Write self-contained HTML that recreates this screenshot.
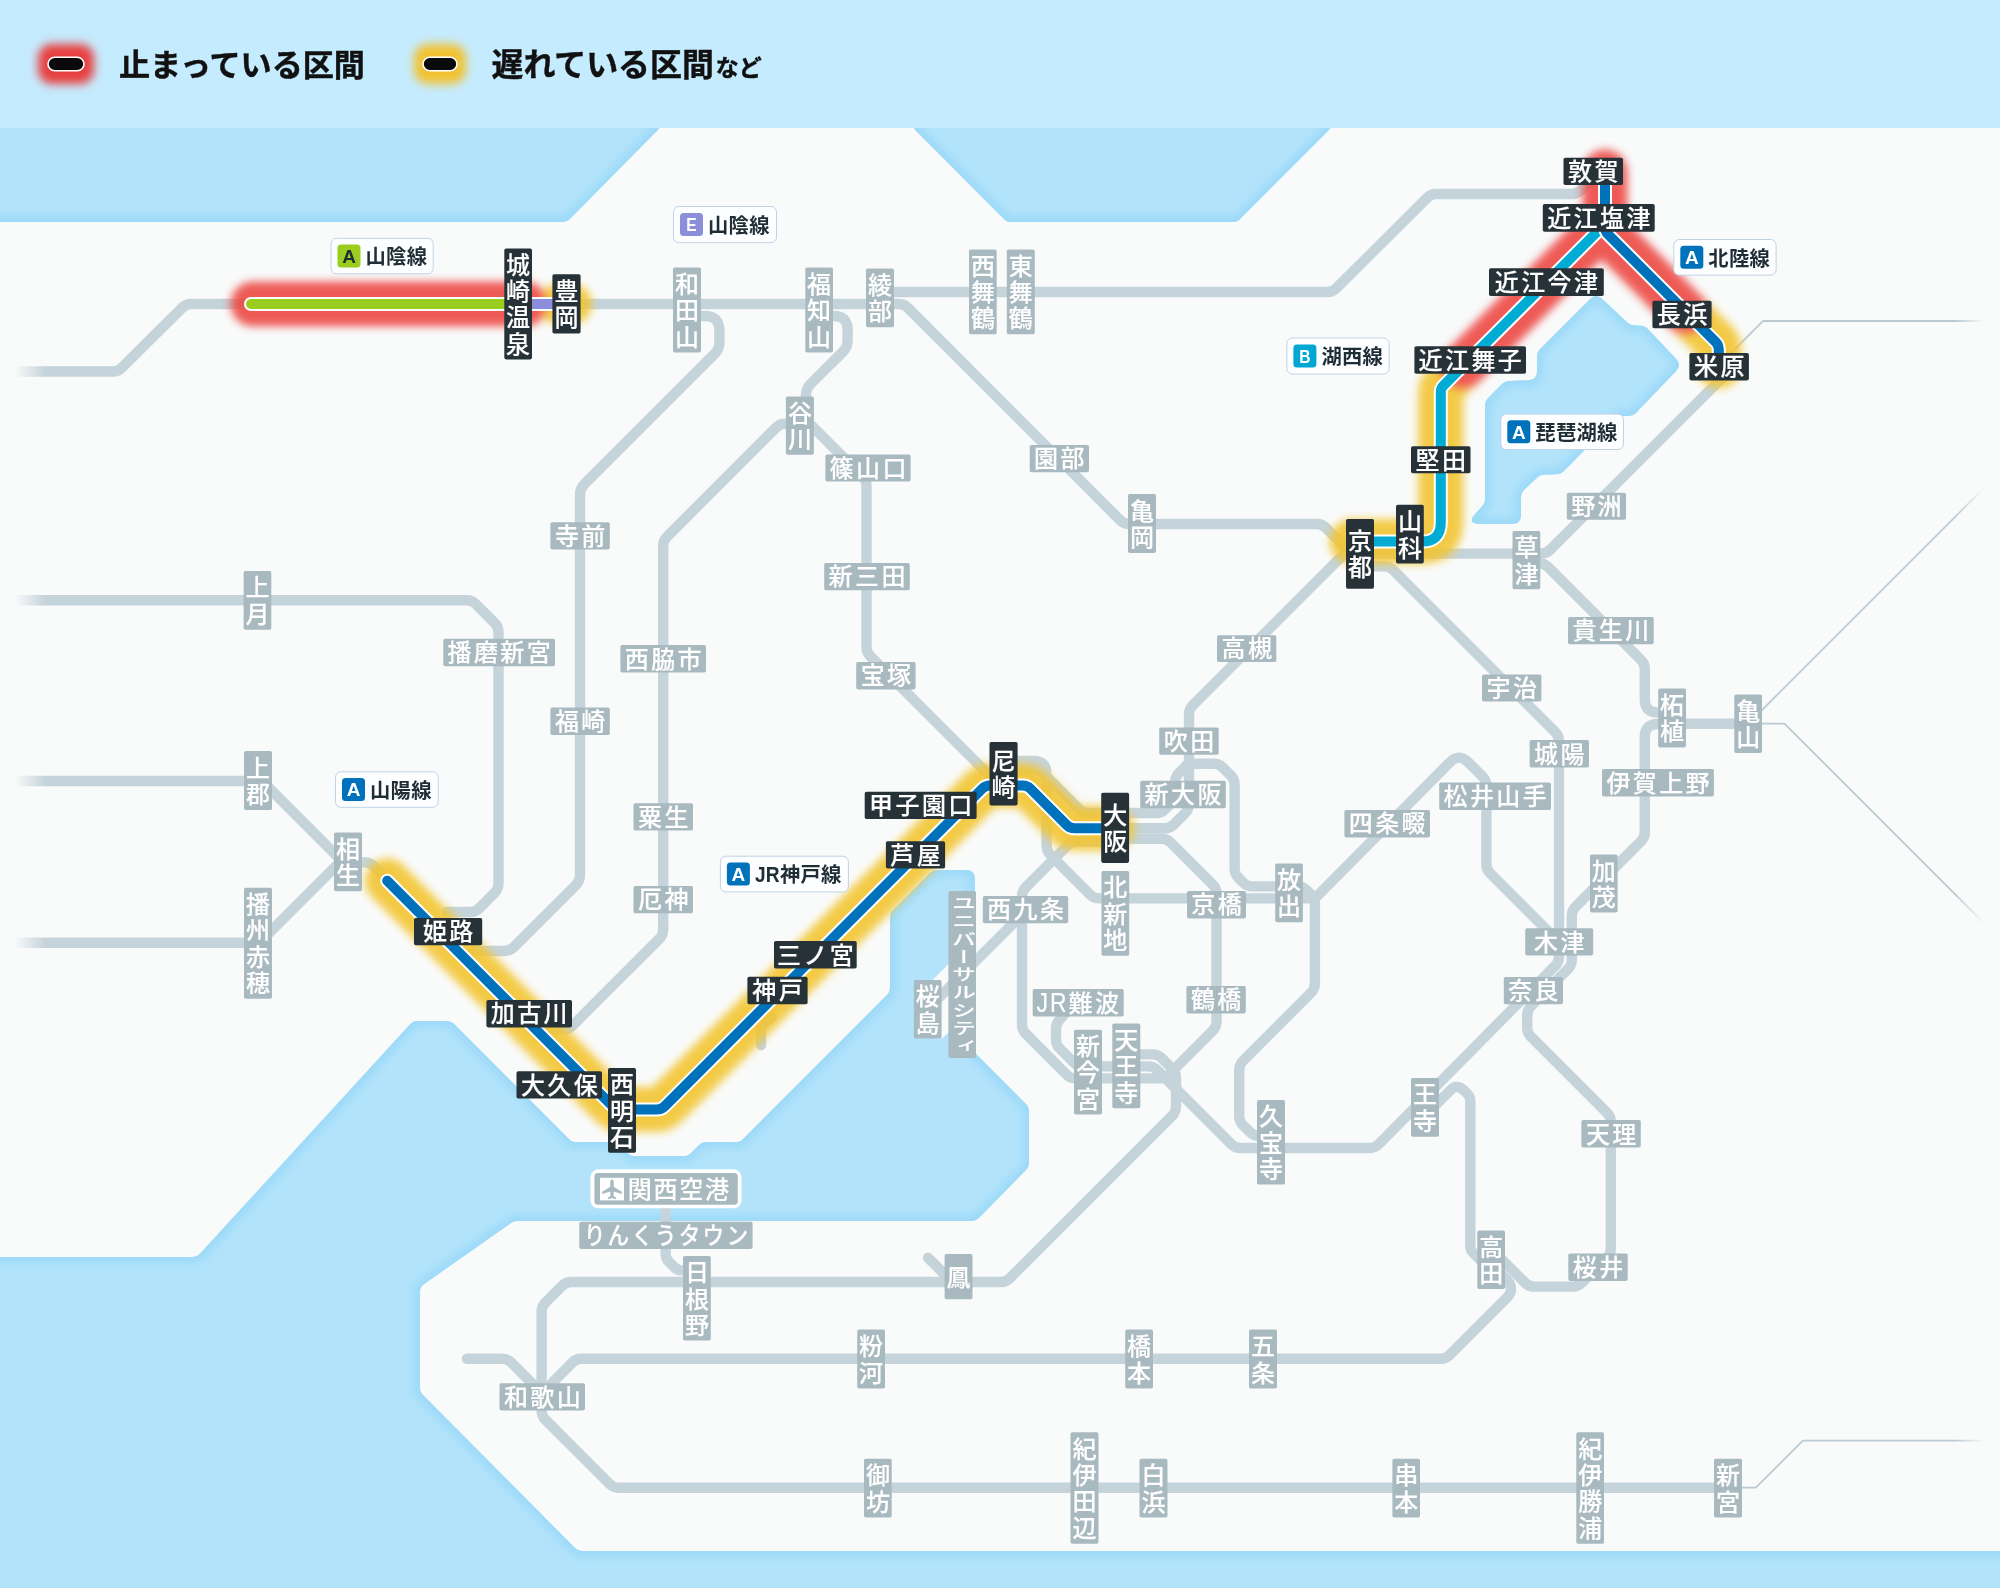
<!DOCTYPE html>
<html lang="ja"><head><meta charset="utf-8"><title>運行情報マップ</title>
<style>html,body{margin:0;padding:0;background:#f9fbfb}body{width:2000px;height:1588px;overflow:hidden}svg{display:block;transform:translateZ(0);will-change:transform}</style>
</head><body>
<svg width="2000" height="1588" viewBox="0 0 2000 1588">
<defs>
<filter id="b4" x="-20%" y="-20%" width="140%" height="140%"><feGaussianBlur stdDeviation="4.1"/></filter>
<filter id="b5" x="-50%" y="-50%" width="200%" height="200%"><feGaussianBlur stdDeviation="4.6"/></filter>
<filter id="b2" x="-5%" y="-5%" width="110%" height="110%"><feGaussianBlur stdDeviation="4.5"/></filter>
<linearGradient id="fade" x1="0" x2="1" y1="0" y2="0"><stop offset="0" stop-color="#000"/><stop offset="0.0075" stop-color="#000"/><stop offset="0.0225" stop-color="#fff"/><stop offset="0.9775" stop-color="#fff"/><stop offset="0.9925" stop-color="#000"/><stop offset="1" stop-color="#000"/></linearGradient>
<mask id="mfade" maskUnits="userSpaceOnUse" x="0" y="0" width="2000" height="1588"><rect x="0" y="0" width="2000" height="1588" fill="url(#fade)"/></mask>
<clipPath id="mapclip"><rect x="0" y="128" width="2000" height="1460"/></clipPath>
</defs>
<rect width="2000" height="1588" fill="#f9fbfb"/>
<g clip-path="url(#mapclip)">
<g fill="#b2e3fb" stroke="#b2e3fb" stroke-width="6" stroke-linejoin="round">
</g>
<clipPath id="sc0"><path d="M320.0 100.0 L651.0 100.0 Q660.0 100.0 660.0 109.0 L660.0 124.3 Q660.0 128.0 657.4 130.6 L569.6 219.3 Q567.0 222.0 563.2 222.0 L-11.0 222.0 Q-20.0 222.0 -20.0 213.0 L-20.0 109.0 Q-20.0 100.0 -11.0 100.0 Z"/></clipPath>
<path d="M320.0 100.0 L651.0 100.0 Q660.0 100.0 660.0 109.0 L660.0 124.3 Q660.0 128.0 657.4 130.6 L569.6 219.3 Q567.0 222.0 563.2 222.0 L-11.0 222.0 Q-20.0 222.0 -20.0 213.0 L-20.0 109.0 Q-20.0 100.0 -11.0 100.0 Z" fill="#b2e3fb"/>
<g clip-path="url(#sc0)"><path d="M320.0 100.0 L651.0 100.0 Q660.0 100.0 660.0 109.0 L660.0 124.3 Q660.0 128.0 657.4 130.6 L569.6 219.3 Q567.0 222.0 563.2 222.0 L-11.0 222.0 Q-20.0 222.0 -20.0 213.0 L-20.0 109.0 Q-20.0 100.0 -11.0 100.0 Z" fill="none" stroke="#9bd9f8" stroke-width="12" filter="url(#b2)"/></g>
<clipPath id="sc1"><path d="M1122.0 100.0 L1322.0 100.0 Q1331.0 100.0 1331.0 109.0 L1331.0 124.3 Q1331.0 128.0 1328.4 130.6 L1239.6 219.4 Q1237.0 222.0 1233.3 222.0 L1010.7 222.0 Q1007.0 222.0 1004.4 219.4 L915.6 130.6 Q913.0 128.0 913.0 124.3 L913.0 109.0 Q913.0 100.0 922.0 100.0 Z"/></clipPath>
<path d="M1122.0 100.0 L1322.0 100.0 Q1331.0 100.0 1331.0 109.0 L1331.0 124.3 Q1331.0 128.0 1328.4 130.6 L1239.6 219.4 Q1237.0 222.0 1233.3 222.0 L1010.7 222.0 Q1007.0 222.0 1004.4 219.4 L915.6 130.6 Q913.0 128.0 913.0 124.3 L913.0 109.0 Q913.0 100.0 922.0 100.0 Z" fill="#b2e3fb"/>
<g clip-path="url(#sc1)"><path d="M1122.0 100.0 L1322.0 100.0 Q1331.0 100.0 1331.0 109.0 L1331.0 124.3 Q1331.0 128.0 1328.4 130.6 L1239.6 219.4 Q1237.0 222.0 1233.3 222.0 L1010.7 222.0 Q1007.0 222.0 1004.4 219.4 L915.6 130.6 Q913.0 128.0 913.0 124.3 L913.0 109.0 Q913.0 100.0 922.0 100.0 Z" fill="none" stroke="#9bd9f8" stroke-width="12" filter="url(#b2)"/></g>
<clipPath id="sc2"><path d="M1613.0 309.0 L1627.7 322.8 Q1630.0 325.0 1633.2 325.2 L1641.5 325.8 Q1645.0 326.0 1647.4 328.6 L1676.1 358.8 Q1682.0 365.0 1676.0 371.2 L1635.7 413.2 Q1633.0 416.0 1629.2 416.0 L1621.8 416.0 Q1618.0 416.0 1615.4 418.7 L1563.5 471.5 Q1561.0 474.0 1557.5 474.2 L1543.3 474.8 Q1540.0 475.0 1537.6 477.3 L1523.8 490.3 Q1521.0 493.0 1521.0 496.9 L1521.0 515.0 Q1521.0 524.0 1512.0 524.0 L1480.2 524.0 Q1466.0 524.0 1475.5 513.5 L1482.7 505.6 Q1485.0 503.0 1485.0 499.5 L1485.0 404.7 Q1485.0 401.0 1487.6 398.4 L1502.5 383.5 Q1505.0 381.0 1508.6 380.9 L1528.3 380.3 Q1537.0 380.0 1537.0 371.3 L1537.0 355.7 Q1537.0 352.0 1539.6 349.4 L1589.8 299.2 Q1596.0 293.0 1602.4 299.0 Z"/></clipPath>
<path d="M1613.0 309.0 L1627.7 322.8 Q1630.0 325.0 1633.2 325.2 L1641.5 325.8 Q1645.0 326.0 1647.4 328.6 L1676.1 358.8 Q1682.0 365.0 1676.0 371.2 L1635.7 413.2 Q1633.0 416.0 1629.2 416.0 L1621.8 416.0 Q1618.0 416.0 1615.4 418.7 L1563.5 471.5 Q1561.0 474.0 1557.5 474.2 L1543.3 474.8 Q1540.0 475.0 1537.6 477.3 L1523.8 490.3 Q1521.0 493.0 1521.0 496.9 L1521.0 515.0 Q1521.0 524.0 1512.0 524.0 L1480.2 524.0 Q1466.0 524.0 1475.5 513.5 L1482.7 505.6 Q1485.0 503.0 1485.0 499.5 L1485.0 404.7 Q1485.0 401.0 1487.6 398.4 L1502.5 383.5 Q1505.0 381.0 1508.6 380.9 L1528.3 380.3 Q1537.0 380.0 1537.0 371.3 L1537.0 355.7 Q1537.0 352.0 1539.6 349.4 L1589.8 299.2 Q1596.0 293.0 1602.4 299.0 Z" fill="#b2e3fb"/>
<g clip-path="url(#sc2)"><path d="M1613.0 309.0 L1627.7 322.8 Q1630.0 325.0 1633.2 325.2 L1641.5 325.8 Q1645.0 326.0 1647.4 328.6 L1676.1 358.8 Q1682.0 365.0 1676.0 371.2 L1635.7 413.2 Q1633.0 416.0 1629.2 416.0 L1621.8 416.0 Q1618.0 416.0 1615.4 418.7 L1563.5 471.5 Q1561.0 474.0 1557.5 474.2 L1543.3 474.8 Q1540.0 475.0 1537.6 477.3 L1523.8 490.3 Q1521.0 493.0 1521.0 496.9 L1521.0 515.0 Q1521.0 524.0 1512.0 524.0 L1480.2 524.0 Q1466.0 524.0 1475.5 513.5 L1482.7 505.6 Q1485.0 503.0 1485.0 499.5 L1485.0 404.7 Q1485.0 401.0 1487.6 398.4 L1502.5 383.5 Q1505.0 381.0 1508.6 380.9 L1528.3 380.3 Q1537.0 380.0 1537.0 371.3 L1537.0 355.7 Q1537.0 352.0 1539.6 349.4 L1589.8 299.2 Q1596.0 293.0 1602.4 299.0 Z" fill="none" stroke="#9bd9f8" stroke-width="12" filter="url(#b2)"/></g>
<clipPath id="sc3"><path d="M88.5 1257.0 L193.0 1257.0 Q197.0 1257.0 199.7 1254.1 L410.3 1023.9 Q413.0 1021.0 417.0 1021.0 L447.3 1021.0 Q451.0 1021.0 453.6 1023.6 L569.4 1139.4 Q572.0 1142.0 575.7 1142.0 L620.0 1142.0 Q627.0 1142.0 627.0 1149.0 L627.0 1149.0 Q627.0 1156.0 634.0 1156.0 L684.3 1156.0 Q688.0 1156.0 690.6 1153.4 L699.4 1144.6 Q702.0 1142.0 705.7 1142.0 L736.3 1142.0 Q740.0 1142.0 742.6 1139.4 L887.4 994.6 Q890.0 992.0 890.0 988.3 L890.0 916.7 Q890.0 913.0 892.6 910.4 L930.4 872.6 Q933.0 870.0 936.7 870.0 L966.0 870.0 Q975.0 870.0 975.0 879.0 L975.0 1049.3 Q975.0 1053.0 977.6 1055.6 L1026.4 1104.4 Q1029.0 1107.0 1029.0 1110.7 L1029.0 1163.3 Q1029.0 1167.0 1026.4 1169.6 L978.6 1218.3 Q976.0 1221.0 972.2 1221.0 L516.8 1221.0 Q514.0 1221.0 511.7 1222.6 L423.8 1284.3 Q420.0 1287.0 420.0 1291.7 L420.0 1388.3 Q420.0 1392.0 422.6 1394.6 L575.4 1548.3 Q578.0 1551.0 581.7 1551.0 L2011.0 1551.0 Q2020.0 1551.0 2020.0 1560.0 L2020.0 1591.0 Q2020.0 1600.0 2011.0 1600.0 L-11.0 1600.0 Q-20.0 1600.0 -20.0 1591.0 L-20.0 1266.0 Q-20.0 1257.0 -11.0 1257.0 Z"/></clipPath>
<path d="M88.5 1257.0 L193.0 1257.0 Q197.0 1257.0 199.7 1254.1 L410.3 1023.9 Q413.0 1021.0 417.0 1021.0 L447.3 1021.0 Q451.0 1021.0 453.6 1023.6 L569.4 1139.4 Q572.0 1142.0 575.7 1142.0 L620.0 1142.0 Q627.0 1142.0 627.0 1149.0 L627.0 1149.0 Q627.0 1156.0 634.0 1156.0 L684.3 1156.0 Q688.0 1156.0 690.6 1153.4 L699.4 1144.6 Q702.0 1142.0 705.7 1142.0 L736.3 1142.0 Q740.0 1142.0 742.6 1139.4 L887.4 994.6 Q890.0 992.0 890.0 988.3 L890.0 916.7 Q890.0 913.0 892.6 910.4 L930.4 872.6 Q933.0 870.0 936.7 870.0 L966.0 870.0 Q975.0 870.0 975.0 879.0 L975.0 1049.3 Q975.0 1053.0 977.6 1055.6 L1026.4 1104.4 Q1029.0 1107.0 1029.0 1110.7 L1029.0 1163.3 Q1029.0 1167.0 1026.4 1169.6 L978.6 1218.3 Q976.0 1221.0 972.2 1221.0 L516.8 1221.0 Q514.0 1221.0 511.7 1222.6 L423.8 1284.3 Q420.0 1287.0 420.0 1291.7 L420.0 1388.3 Q420.0 1392.0 422.6 1394.6 L575.4 1548.3 Q578.0 1551.0 581.7 1551.0 L2011.0 1551.0 Q2020.0 1551.0 2020.0 1560.0 L2020.0 1591.0 Q2020.0 1600.0 2011.0 1600.0 L-11.0 1600.0 Q-20.0 1600.0 -20.0 1591.0 L-20.0 1266.0 Q-20.0 1257.0 -11.0 1257.0 Z" fill="#b2e3fb"/>
<g clip-path="url(#sc3)"><path d="M88.5 1257.0 L193.0 1257.0 Q197.0 1257.0 199.7 1254.1 L410.3 1023.9 Q413.0 1021.0 417.0 1021.0 L447.3 1021.0 Q451.0 1021.0 453.6 1023.6 L569.4 1139.4 Q572.0 1142.0 575.7 1142.0 L620.0 1142.0 Q627.0 1142.0 627.0 1149.0 L627.0 1149.0 Q627.0 1156.0 634.0 1156.0 L684.3 1156.0 Q688.0 1156.0 690.6 1153.4 L699.4 1144.6 Q702.0 1142.0 705.7 1142.0 L736.3 1142.0 Q740.0 1142.0 742.6 1139.4 L887.4 994.6 Q890.0 992.0 890.0 988.3 L890.0 916.7 Q890.0 913.0 892.6 910.4 L930.4 872.6 Q933.0 870.0 936.7 870.0 L966.0 870.0 Q975.0 870.0 975.0 879.0 L975.0 1049.3 Q975.0 1053.0 977.6 1055.6 L1026.4 1104.4 Q1029.0 1107.0 1029.0 1110.7 L1029.0 1163.3 Q1029.0 1167.0 1026.4 1169.6 L978.6 1218.3 Q976.0 1221.0 972.2 1221.0 L516.8 1221.0 Q514.0 1221.0 511.7 1222.6 L423.8 1284.3 Q420.0 1287.0 420.0 1291.7 L420.0 1388.3 Q420.0 1392.0 422.6 1394.6 L575.4 1548.3 Q578.0 1551.0 581.7 1551.0 L2011.0 1551.0 Q2020.0 1551.0 2020.0 1560.0 L2020.0 1591.0 Q2020.0 1600.0 2011.0 1600.0 L-11.0 1600.0 Q-20.0 1600.0 -20.0 1591.0 L-20.0 1266.0 Q-20.0 1257.0 -11.0 1257.0 Z" fill="none" stroke="#9bd9f8" stroke-width="12" filter="url(#b2)"/></g>
</g>
<path d="M950 962.5 L932 980.5 L932 1038 L942 1038.5 L950 1031 Z" fill="#f9fbfb"/>
<rect width="2000" height="128" fill="#c5ebfe"/>
<g mask="url(#mfade)">
<g fill="none" stroke="#c5d3da" stroke-width="10.4" stroke-linecap="round" stroke-linejoin="round">
<path d="M10.0 371.5 L112.6 371.5 Q118.0 371.5 121.8 367.7 L182.2 307.8 Q186.0 304.0 191.4 304.0 L898.6 304.0 Q904.0 304.0 907.8 307.8 L1120.2 520.2 Q1124.0 524.0 1129.4 524.0 L1316.6 524.0 Q1322.0 524.0 1325.8 527.8 L1350.0 552.0"/>
<path d="M880.0 292.0 L1327.5 292.0 Q1332.5 292.0 1336.0 288.5 L1427.5 197.5 Q1431.0 194.0 1436.0 194.0 L1572.0 194.0 Q1577.0 194.0 1580.5 190.5 L1592.0 179.0"/>
<path d="M690.0 316.0 L704.7 316.0 Q719.4 316.0 719.4 330.7 L719.4 342.4 Q719.4 349.0 714.7 353.7 L584.7 483.7 Q580.0 488.4 580.0 495.0 L580.0 874.4 Q580.0 881.0 575.3 885.7 L514.7 946.3 Q510.0 951.0 503.4 951.0 L474.0 951.0"/>
<path d="M820.0 316.0 L833.8 316.0 Q847.6 316.0 847.6 329.8 L847.6 340.4 Q847.6 347.0 842.9 351.7 L810.7 383.9 Q806.0 388.6 806.0 395.2 L806.0 405.0"/>
<path d="M800.0 414.0 L813.9 428.0 Q813.9 428.0 813.9 428.0 L862.7 476.8 Q866.5 480.6 866.5 486.0 L866.5 647.1 Q866.5 652.5 870.3 656.3 L985.2 771.2 Q989.0 775.0 994.4 775.0 L1000.0 775.0"/>
<path d="M800.0 423.7 L785.4 423.7 Q780.0 423.7 776.2 427.5 L667.0 536.7 Q663.2 540.5 663.2 545.9 L663.2 929.6 Q663.2 935.0 659.4 938.8 L572.4 1025.8 Q568.6 1029.6 563.2 1029.6 L540.0 1029.6"/>
<path d="M10.0 600.3 L466.6 600.3 Q472.0 600.3 475.8 604.1 L494.7 623.0 Q498.5 626.8 498.5 632.2 L498.5 883.6 Q498.5 889.0 494.7 892.8 L479.3 908.2 Q475.5 912.0 470.1 912.0 L447.0 912.0"/>
<path d="M10.0 781.0 L256.6 781.0 Q262.0 781.0 265.8 784.8 L342.0 861.0"/>
<path d="M10.0 942.8 L253.8 942.8 Q259.2 942.8 263.0 939.0 L342.0 860.0"/>
<path d="M350.0 862.4 L364.6 862.4 Q370.0 862.4 373.8 866.2 L388.0 880.4"/>
<path d="M1360.0 553.6 L1541.0 553.6 Q1546.4 553.6 1550.2 549.8 L1724.0 376.0"/>
<path d="M1528.0 563.2 L1538.9 563.2 Q1544.3 563.2 1548.1 567.0 L1641.0 659.9 Q1644.8 663.7 1644.8 669.1 L1644.8 699.5 Q1644.8 712.5 1657.8 712.5 L1672.0 712.5"/>
<path d="M1672.0 724.0 L1657.8 724.0 Q1644.8 724.0 1644.8 737.0 L1644.8 832.1 Q1644.8 837.5 1641.0 841.3 L1575.6 906.7 Q1571.8 910.5 1571.8 915.9 L1571.8 959.8 Q1571.8 965.2 1568.0 969.0 L1531.0 1006.0 Q1527.2 1009.8 1527.2 1015.2 L1527.2 1027.6 Q1527.2 1033.0 1531.0 1036.8 L1607.0 1112.8 Q1610.8 1116.6 1610.8 1122.0 L1610.8 1248.4 Q1610.8 1253.8 1607.0 1257.6 L1581.8 1282.8 Q1578.0 1286.6 1572.6 1286.6 L1534.3 1286.6 Q1528.9 1286.6 1525.1 1282.8 L1495.0 1252.7"/>
<path d="M1672.0 723.7 L1750.0 723.7"/>
<path d="M1362.0 566.4 L1384.2 566.4 Q1389.6 566.4 1393.4 570.2 L1555.2 732.0 Q1559.0 735.8 1559.0 741.2 L1559.0 956.7 Q1559.0 962.0 1555.2 965.8 L1378.8 1144.1 Q1375.0 1148.0 1369.6 1148.0 L1240.6 1148.0 Q1235.2 1148.0 1231.4 1144.2 L1157.4 1070.2 Q1153.6 1066.4 1148.2 1066.4 L1083.0 1066.4 Q1077.6 1066.4 1073.8 1062.6 L1059.8 1048.6 Q1056.0 1044.8 1056.0 1039.4 L1056.0 1028.8 Q1056.0 1024.0 1059.1 1020.3 L1068.0 1010.0"/>
<path d="M1314.9 898.4 L1449.8 762.3 Q1459.0 753.0 1468.2 762.2 L1482.6 776.6 Q1486.4 780.4 1486.4 785.8 L1486.4 864.2 Q1486.4 869.6 1490.2 873.4 L1546.4 929.6 Q1546.4 929.6 1546.4 929.6 L1559.0 942.0"/>
<path d="M1005.0 761.0 L1033.5 761.0 Q1046.5 761.0 1046.5 774.0 L1046.5 845.6 Q1046.5 851.0 1050.3 854.8 L1090.1 894.6 Q1093.9 898.4 1099.3 898.4 L1314.9 898.4"/>
<path d="M1005.0 770.0 L1034.6 770.0 Q1040.0 770.0 1043.8 773.8 L1079.2 809.2 Q1083.0 813.0 1088.4 813.0 L1112.0 813.0"/>
<path d="M1112.0 838.8 L1161.6 838.8 Q1167.0 838.8 1170.8 842.6 L1212.7 884.5 Q1216.5 888.3 1216.5 893.7 L1216.5 1021.6 Q1216.5 1027.0 1212.7 1030.8 L1168.9 1074.6 Q1165.1 1078.4 1159.7 1078.4 L1075.8 1078.4 Q1070.4 1078.4 1066.6 1074.6 L1025.8 1033.8 Q1022.0 1030.0 1022.0 1024.6 L1022.0 896.4 Q1022.0 891.0 1025.8 887.2 L1067.6 845.4 Q1071.4 841.6 1076.8 841.6 L1112.0 841.6"/>
<path d="M1112.0 813.0 L1156.0 813.0 Q1161.4 813.0 1165.2 809.2 L1171.2 803.2 Q1175.0 799.4 1175.0 794.0 L1175.0 782.4 Q1175.0 777.0 1178.8 773.2 L1189.0 763.0"/>
<path d="M1112.0 828.3 L1164.6 828.3 Q1170.0 828.3 1173.8 824.5 L1185.2 813.1 Q1189.0 809.3 1189.0 803.9 L1189.0 714.4 Q1189.0 709.0 1192.8 705.2 L1343.8 554.2 Q1347.6 550.4 1353.0 550.4 L1362.0 550.4"/>
<path d="M1189.0 763.7 L1213.6 763.7 Q1219.0 763.7 1222.8 767.5 L1230.8 775.5 Q1234.6 779.3 1234.6 784.7 L1234.6 868.6 Q1234.6 874.0 1238.4 877.8 L1243.2 882.6 Q1247.0 886.4 1252.4 886.4 L1297.6 886.4 Q1303.0 886.4 1306.8 890.2 L1311.1 894.6 Q1314.9 898.4 1314.9 903.8 L1314.9 983.4 Q1314.9 988.8 1311.1 992.6 L1243.0 1060.8 Q1239.2 1064.6 1239.2 1070.0 L1239.2 1116.1 Q1239.2 1121.6 1243.1 1125.4 L1250.2 1132.3 Q1254.0 1136.0 1259.3 1136.0 L1270.0 1136.0"/>
<path d="M1022.0 914.6 L930.0 1006.6"/>
<path d="M1128.0 1054.4 L1152.6 1054.4 Q1158.0 1054.4 1161.8 1058.2 L1172.2 1068.6 Q1176.0 1072.4 1176.0 1077.8 L1176.0 1106.6 Q1176.0 1112.0 1172.2 1115.8 L1009.8 1278.2 Q1006.0 1282.0 1000.6 1282.0 L571.4 1282.0 Q566.0 1282.0 562.2 1285.8 L545.4 1302.6 Q541.6 1306.4 541.6 1311.8 L541.6 1395.0"/>
<path d="M928.0 1257.7 L952.0 1281.7"/>
<path d="M665.6 1195.0 L665.6 1254.3 Q665.6 1258.4 668.5 1261.3 L674.7 1267.5 Q677.6 1270.4 681.7 1270.4 L697.0 1270.4"/>
<path d="M551.0 1384.0 L572.7 1362.3 Q576.2 1358.8 581.2 1358.8 L1440.8 1358.8 Q1445.8 1358.8 1449.3 1355.3 L1507.6 1297.0 Q1511.0 1293.6 1511.0 1288.8 L1511.0 1288.8 Q1511.0 1284.0 1507.6 1280.6 L1498.0 1271.0"/>
<path d="M541.6 1395.0 L541.6 1410.5 Q541.6 1415.9 545.4 1419.7 L609.6 1483.9 Q613.4 1487.7 618.8 1487.7 L1728.0 1487.7"/>
<path d="M467.0 1358.8 L502.2 1358.8 Q507.6 1358.8 511.4 1362.6 L534.0 1385.2"/>
<path d="M771.5 1016.5 L762.8 1025.2 Q761.0 1027.0 761.0 1029.5 L761.0 1045.0"/>
<path d="M1425.0 1115.5 L1450.4 1090.1 Q1457.0 1083.5 1463.7 1090.2 L1467.4 1093.9 Q1470.3 1096.8 1470.3 1100.9 L1470.3 1245.9 Q1470.3 1250.0 1473.2 1252.9 L1487.0 1266.7"/>
</g>
<g fill="none" stroke="#bccbd3" stroke-width="1.8" stroke-linejoin="round">
<path d="M1727.0 357.0 L1762.4 321.6 Q1763.0 321.0 1763.8 321.0 L1990.0 321.0"/>
<path d="M1755.0 717.0 L1995.0 477.0"/>
<path d="M1750.0 723.7 L1783.8 723.7 Q1784.6 723.7 1785.2 724.3 L1995.0 934.1"/>
<path d="M1730.0 1487.7 L1754.9 1487.7 Q1755.7 1487.7 1756.3 1487.1 L1802.4 1441.2 Q1803.0 1440.6 1803.8 1440.6 L1990.0 1440.6"/>
</g>
</g>
<g fill="none" stroke-linecap="round" stroke-linejoin="round" stroke-width="45" filter="url(#b4)" opacity="0.88">
<path d="M387.2 880.8 L611.9 1105.5 Q616.0 1109.6 621.8 1109.6 L655.6 1109.6 Q661.4 1109.6 665.5 1105.5 L981.3 789.7 Q985.4 785.6 991.2 785.6 L1021.5 785.6 Q1027.3 785.6 1031.4 789.7 L1065.9 824.2 Q1070.0 828.3 1075.8 828.3 L1112.0 828.3" stroke="#f3c42e"/>
<path d="M1352.0 541.6 L1421.8 541.6 Q1440.8 541.6 1440.8 522.6 L1440.8 391.9 Q1440.8 388.2 1443.4 385.6 L1466.0 363.0" stroke="#f3c42e"/>
<path d="M1690.0 316.3 L1715.9 342.2 Q1718.8 345.1 1718.8 349.2 L1718.8 366.0" stroke="#f3c42e"/>
<path d="M558 304 L572 304" stroke="#f3c42e" stroke-width="40"/>
<path d="M1462.0 367.0 L1600.0 229.0" stroke="#ed4541"/>
<path d="M1605.0 172.0 L1605.0 227.2 Q1605.0 231.3 1607.9 234.2 L1686.0 312.3" stroke="#ed4541"/>
<path d="M253 304 L525 304" stroke="#ed4541"/>
</g>
<path d="M387.2 880.8 L612.8 1106.4 Q616.0 1109.6 620.6 1109.6 L656.8 1109.6 Q661.4 1109.6 664.6 1106.4 L982.2 788.8 Q985.4 785.6 990.0 785.6 L1022.7 785.6 Q1027.3 785.6 1030.5 788.8 L1066.8 825.1 Q1070.0 828.3 1074.6 828.3 L1112.0 828.3" fill="none" stroke="#fff" stroke-width="14.0" stroke-linecap="round" stroke-linejoin="round"/>
<path d="M387.2 880.8 L612.8 1106.4 Q616.0 1109.6 620.6 1109.6 L656.8 1109.6 Q661.4 1109.6 664.6 1106.4 L982.2 788.8 Q985.4 785.6 990.0 785.6 L1022.7 785.6 Q1027.3 785.6 1030.5 788.8 L1066.8 825.1 Q1070.0 828.3 1074.6 828.3 L1112.0 828.3" fill="none" stroke="#0072bc" stroke-width="10.0" stroke-linecap="round" stroke-linejoin="round"/>
<path d="M1362.0 541.6 L1421.8 541.6 Q1440.8 541.6 1440.8 522.6 L1440.8 391.9 Q1440.8 388.2 1443.4 385.6 L1600.0 229.0" fill="none" stroke="#fff" stroke-width="14.0" stroke-linecap="butt" stroke-linejoin="round"/>
<path d="M1362.0 541.6 L1421.8 541.6 Q1440.8 541.6 1440.8 522.6 L1440.8 391.9 Q1440.8 388.2 1443.4 385.6 L1600.0 229.0" fill="none" stroke="#00acd3" stroke-width="10.0" stroke-linecap="butt" stroke-linejoin="round"/>
<path d="M1605.0 170.0 L1605.0 226.7 Q1605.0 231.3 1608.2 234.5 L1715.6 341.9 Q1718.8 345.1 1718.8 349.7 L1718.8 362.0" fill="none" stroke="#fff" stroke-width="14.0" stroke-linecap="butt" stroke-linejoin="round"/>
<path d="M1605.0 170.0 L1605.0 226.7 Q1605.0 231.3 1608.2 234.5 L1715.6 341.9 Q1718.8 345.1 1718.8 349.7 L1718.8 362.0" fill="none" stroke="#0072bc" stroke-width="10.0" stroke-linecap="butt" stroke-linejoin="round"/>
<path d="M520.0 304.0 L560.0 304.0" fill="none" stroke="#fff" stroke-width="14.0" stroke-linecap="butt" stroke-linejoin="round"/>
<path d="M520.0 304.0 L560.0 304.0" fill="none" stroke="#8b8edb" stroke-width="10.0" stroke-linecap="butt" stroke-linejoin="round"/>
<path d="M251.0 304.0 L522.0 304.0" fill="none" stroke="#fff" stroke-width="14.0" stroke-linecap="round" stroke-linejoin="round"/>
<path d="M251.0 304.0 L522.0 304.0" fill="none" stroke="#9acd1e" stroke-width="10.0" stroke-linecap="round" stroke-linejoin="round"/>
<style>.st{font-family:"Liberation Sans","Noto Sans CJK JP",sans-serif;font-size:24px;font-weight:500;fill:#fff;stroke:#fff;stroke-width:0.15px}.ln{font-family:"Liberation Sans","Noto Sans CJK JP",sans-serif;font-size:20.3px;font-weight:700;fill:#1f2d36;letter-spacing:0.3px}.bd{font-family:"Liberation Sans","Noto Sans CJK JP",sans-serif;font-size:19px;font-weight:700}.lg{font-family:"Liberation Sans","Noto Sans CJK JP",sans-serif;font-weight:700;fill:#111;stroke:#111;stroke-width:0.45px}</style>
<rect x="504.3" y="248.6" width="27.7" height="110.8" rx="1.8" fill="#263238"/>
<text text-anchor="middle" class="st"><tspan x="518.1" y="273.6">城</tspan><tspan x="518.1" y="300.0">崎</tspan><tspan x="518.1" y="326.4">温</tspan><tspan x="518.1" y="352.8">泉</tspan></text>
<rect x="552.4" y="274.3" width="28.2" height="59.2" rx="1.8" fill="#263238"/>
<text text-anchor="middle" class="st"><tspan x="566.5" y="299.9">豊</tspan><tspan x="566.5" y="326.3">岡</tspan></text>
<rect x="673.0" y="267.4" width="28.0" height="85.2" rx="1.8" fill="#a9b9c0"/>
<text text-anchor="middle" class="st"><tspan x="687.0" y="292.8">和</tspan><tspan x="687.0" y="319.2">田</tspan><tspan x="687.0" y="345.6">山</tspan></text>
<rect x="805.3" y="267.4" width="27.7" height="85.2" rx="1.8" fill="#a9b9c0"/>
<text text-anchor="middle" class="st"><tspan x="819.1" y="292.8">福</tspan><tspan x="819.1" y="319.2">知</tspan><tspan x="819.1" y="345.6">山</tspan></text>
<rect x="866.0" y="268.5" width="28.0" height="58.7" rx="1.8" fill="#a9b9c0"/>
<text text-anchor="middle" class="st"><tspan x="880.0" y="293.9">綾</tspan><tspan x="880.0" y="320.2">部</tspan></text>
<rect x="969.0" y="249.4" width="27.7" height="84.9" rx="1.8" fill="#a9b9c0"/>
<text text-anchor="middle" class="st"><tspan x="982.9" y="274.7">西</tspan><tspan x="982.9" y="301.1">舞</tspan><tspan x="982.9" y="327.4">鶴</tspan></text>
<rect x="1006.8" y="249.4" width="28.0" height="84.9" rx="1.8" fill="#a9b9c0"/>
<text text-anchor="middle" class="st"><tspan x="1020.8" y="274.7">東</tspan><tspan x="1020.8" y="301.1">舞</tspan><tspan x="1020.8" y="327.4">鶴</tspan></text>
<rect x="785.9" y="396.5" width="28.0" height="58.2" rx="1.8" fill="#a9b9c0"/>
<text text-anchor="middle" class="st"><tspan x="799.9" y="421.6">谷</tspan><tspan x="799.9" y="448.0">川</tspan></text>
<rect x="825.4" y="454.4" width="85.2" height="27.2" rx="1.8" fill="#a9b9c0"/>
<text x="869.2" y="476.7" text-anchor="middle" letter-spacing="2.4" class="st">篠山口</text>
<rect x="1029.7" y="445.0" width="59.3" height="27.3" rx="1.8" fill="#a9b9c0"/>
<text x="1060.5" y="467.3" text-anchor="middle" letter-spacing="2.4" class="st">園部</text>
<rect x="1128.0" y="494.0" width="28.0" height="59.0" rx="1.8" fill="#a9b9c0"/>
<text text-anchor="middle" class="st"><tspan x="1142.0" y="519.5">亀</tspan><tspan x="1142.0" y="545.9">岡</tspan></text>
<rect x="1563.5" y="157.7" width="59.5" height="27.3" rx="1.8" fill="#263238"/>
<text x="1594.5" y="180.0" text-anchor="middle" letter-spacing="2.4" class="st">敦賀</text>
<rect x="1542.8" y="204.0" width="111.9" height="27.7" rx="1.8" fill="#263238"/>
<text x="1600.0" y="226.5" text-anchor="middle" letter-spacing="2.4" class="st">近江塩津</text>
<rect x="1489.0" y="268.3" width="114.8" height="27.7" rx="1.8" fill="#263238"/>
<text x="1547.6" y="290.8" text-anchor="middle" letter-spacing="2.4" class="st">近江今津</text>
<rect x="1414.4" y="346.3" width="111.6" height="27.5" rx="1.8" fill="#263238"/>
<text x="1471.4" y="368.8" text-anchor="middle" letter-spacing="2.4" class="st">近江舞子</text>
<rect x="1652.4" y="300.8" width="59.2" height="27.4" rx="1.8" fill="#263238"/>
<text x="1683.2" y="323.2" text-anchor="middle" letter-spacing="2.4" class="st">長浜</text>
<rect x="1689.4" y="353.0" width="59.5" height="27.4" rx="1.8" fill="#263238"/>
<text x="1720.4" y="375.4" text-anchor="middle" letter-spacing="2.4" class="st">米原</text>
<rect x="1411.0" y="446.3" width="59.5" height="27.0" rx="1.8" fill="#263238"/>
<text x="1442.0" y="468.5" text-anchor="middle" letter-spacing="2.4" class="st">堅田</text>
<rect x="1346.0" y="518.9" width="28.0" height="69.9" rx="1.8" fill="#263238"/>
<text text-anchor="middle" class="st"><tspan x="1360.0" y="549.8">京</tspan><tspan x="1360.0" y="576.2">都</tspan></text>
<rect x="1396.0" y="504.8" width="27.8" height="58.7" rx="1.8" fill="#263238"/>
<text text-anchor="middle" class="st"><tspan x="1409.9" y="530.1">山</tspan><tspan x="1409.9" y="556.6">科</tspan></text>
<rect x="1566.8" y="492.8" width="59.2" height="26.9" rx="1.8" fill="#a9b9c0"/>
<text x="1597.6" y="515.0" text-anchor="middle" letter-spacing="2.4" class="st">野洲</text>
<rect x="1512.5" y="530.9" width="27.8" height="58.4" rx="1.8" fill="#a9b9c0"/>
<text text-anchor="middle" class="st"><tspan x="1526.4" y="556.1">草</tspan><tspan x="1526.4" y="582.5">津</tspan></text>
<rect x="1568.0" y="617.0" width="85.7" height="27.3" rx="1.8" fill="#a9b9c0"/>
<text x="1612.0" y="639.4" text-anchor="middle" letter-spacing="2.4" class="st">貴生川</text>
<rect x="1658.2" y="688.4" width="27.8" height="59.0" rx="1.8" fill="#a9b9c0"/>
<text text-anchor="middle" class="st"><tspan x="1672.1" y="713.9">柘</tspan><tspan x="1672.1" y="740.3">植</tspan></text>
<rect x="1734.3" y="694.5" width="27.7" height="58.5" rx="1.8" fill="#a9b9c0"/>
<text text-anchor="middle" class="st"><tspan x="1748.2" y="719.8">亀</tspan><tspan x="1748.2" y="746.2">山</tspan></text>
<rect x="1482.0" y="674.4" width="59.4" height="27.2" rx="1.8" fill="#a9b9c0"/>
<text x="1512.9" y="696.7" text-anchor="middle" letter-spacing="2.4" class="st">宇治</text>
<rect x="1529.6" y="740.0" width="59.4" height="27.5" rx="1.8" fill="#a9b9c0"/>
<text x="1560.5" y="762.5" text-anchor="middle" letter-spacing="2.4" class="st">城陽</text>
<rect x="1602.0" y="769.0" width="111.9" height="27.5" rx="1.8" fill="#a9b9c0"/>
<text x="1659.2" y="791.5" text-anchor="middle" letter-spacing="2.4" class="st">伊賀上野</text>
<rect x="1590.0" y="854.4" width="27.6" height="58.2" rx="1.8" fill="#a9b9c0"/>
<text text-anchor="middle" class="st"><tspan x="1603.8" y="879.5">加</tspan><tspan x="1603.8" y="905.9">茂</tspan></text>
<rect x="243.6" y="571.0" width="27.7" height="58.7" rx="1.8" fill="#a9b9c0"/>
<text text-anchor="middle" class="st"><tspan x="257.4" y="596.4">上</tspan><tspan x="257.4" y="622.8">月</tspan></text>
<rect x="244.0" y="751.0" width="28.0" height="59.0" rx="1.8" fill="#a9b9c0"/>
<text text-anchor="middle" class="st"><tspan x="258.0" y="776.5">上</tspan><tspan x="258.0" y="802.9">郡</tspan></text>
<rect x="334.0" y="832.5" width="28.0" height="58.7" rx="1.8" fill="#a9b9c0"/>
<text text-anchor="middle" class="st"><tspan x="348.0" y="857.9">相</tspan><tspan x="348.0" y="884.3">生</tspan></text>
<rect x="244.0" y="887.7" width="28.0" height="111.0" rx="1.8" fill="#a9b9c0"/>
<text text-anchor="middle" class="st"><tspan x="258.0" y="912.8">播</tspan><tspan x="258.0" y="939.2">州</tspan><tspan x="258.0" y="965.6">赤</tspan><tspan x="258.0" y="992.0">穂</tspan></text>
<rect x="443.3" y="638.8" width="111.7" height="27.4" rx="1.8" fill="#a9b9c0"/>
<text x="500.3" y="661.2" text-anchor="middle" letter-spacing="2.4" class="st">播磨新宮</text>
<rect x="550.4" y="522.2" width="59.4" height="27.4" rx="1.8" fill="#a9b9c0"/>
<text x="581.3" y="544.6" text-anchor="middle" letter-spacing="2.4" class="st">寺前</text>
<rect x="550.4" y="707.6" width="59.4" height="27.4" rx="1.8" fill="#a9b9c0"/>
<text x="581.3" y="730.0" text-anchor="middle" letter-spacing="2.4" class="st">福崎</text>
<rect x="620.4" y="645.0" width="85.6" height="27.5" rx="1.8" fill="#a9b9c0"/>
<text x="664.4" y="667.5" text-anchor="middle" letter-spacing="2.4" class="st">西脇市</text>
<rect x="633.5" y="803.3" width="59.5" height="27.2" rx="1.8" fill="#a9b9c0"/>
<text x="664.5" y="825.6" text-anchor="middle" letter-spacing="2.4" class="st">粟生</text>
<rect x="633.5" y="886.0" width="59.5" height="27.3" rx="1.8" fill="#a9b9c0"/>
<text x="664.5" y="908.4" text-anchor="middle" letter-spacing="2.4" class="st">厄神</text>
<rect x="824.2" y="563.0" width="85.6" height="27.2" rx="1.8" fill="#a9b9c0"/>
<text x="868.2" y="585.3" text-anchor="middle" letter-spacing="2.4" class="st">新三田</text>
<rect x="856.2" y="662.0" width="59.4" height="27.4" rx="1.8" fill="#a9b9c0"/>
<text x="887.1" y="684.4" text-anchor="middle" letter-spacing="2.4" class="st">宝塚</text>
<rect x="864.7" y="791.7" width="111.9" height="27.4" rx="1.8" fill="#263238"/>
<text x="921.9" y="814.1" text-anchor="middle" letter-spacing="2.4" class="st">甲子園口</text>
<rect x="885.9" y="841.3" width="59.2" height="27.2" rx="1.8" fill="#263238"/>
<text x="916.7" y="863.6" text-anchor="middle" letter-spacing="2.4" class="st">芦屋</text>
<rect x="989.5" y="741.9" width="28.1" height="63.6" rx="1.8" fill="#263238"/>
<text text-anchor="middle" class="st"><tspan x="1003.5" y="769.7">尼</tspan><tspan x="1003.5" y="796.1">崎</tspan></text>
<rect x="1101.2" y="792.8" width="27.9" height="70.1" rx="1.8" fill="#263238"/>
<text text-anchor="middle" class="st"><tspan x="1115.2" y="823.8">大</tspan><tspan x="1115.2" y="850.2">阪</tspan></text>
<rect x="1217.0" y="635.3" width="59.3" height="26.7" rx="1.8" fill="#a9b9c0"/>
<text x="1247.9" y="657.4" text-anchor="middle" letter-spacing="2.4" class="st">高槻</text>
<rect x="1159.2" y="727.5" width="59.5" height="27.2" rx="1.8" fill="#a9b9c0"/>
<text x="1190.2" y="749.8" text-anchor="middle" letter-spacing="2.4" class="st">吹田</text>
<rect x="1140.2" y="780.8" width="85.6" height="27.4" rx="1.8" fill="#a9b9c0"/>
<text x="1184.2" y="803.2" text-anchor="middle" letter-spacing="2.4" class="st">新大阪</text>
<rect x="1344.4" y="810.0" width="85.6" height="27.4" rx="1.8" fill="#a9b9c0"/>
<text x="1388.4" y="832.4" text-anchor="middle" letter-spacing="2.4" class="st">四条畷</text>
<rect x="1439.2" y="782.5" width="111.8" height="27.5" rx="1.8" fill="#a9b9c0"/>
<text x="1496.3" y="805.0" text-anchor="middle" letter-spacing="2.4" class="st">松井山手</text>
<rect x="1275.2" y="863.5" width="27.7" height="58.7" rx="1.8" fill="#a9b9c0"/>
<text text-anchor="middle" class="st"><tspan x="1289.1" y="888.9">放</tspan><tspan x="1289.1" y="915.3">出</tspan></text>
<rect x="1101.5" y="871.0" width="27.7" height="84.8" rx="1.8" fill="#a9b9c0"/>
<text text-anchor="middle" class="st"><tspan x="1115.3" y="896.2">北</tspan><tspan x="1115.3" y="922.6">新</tspan><tspan x="1115.3" y="949.0">地</tspan></text>
<rect x="982.8" y="896.1" width="85.4" height="27.2" rx="1.8" fill="#a9b9c0"/>
<text x="1026.7" y="918.4" text-anchor="middle" letter-spacing="2.4" class="st">西九条</text>
<rect x="1187.0" y="891.0" width="59.0" height="27.4" rx="1.8" fill="#a9b9c0"/>
<text x="1217.7" y="913.4" text-anchor="middle" letter-spacing="2.4" class="st">京橋</text>
<rect x="1032.7" y="989.0" width="91.0" height="27.6" rx="1.8" fill="#a9b9c0"/>
<text x="1036.6" y="1011.5" letter-spacing="2.4" class="st"><tspan font-size="28" textLength="32" lengthAdjust="spacingAndGlyphs">JR</tspan>難波</text>
<rect x="1186.4" y="986.0" width="59.4" height="27.4" rx="1.8" fill="#a9b9c0"/>
<text x="1217.3" y="1008.4" text-anchor="middle" letter-spacing="2.4" class="st">鶴橋</text>
<rect x="1074.0" y="1029.7" width="28.0" height="84.9" rx="1.8" fill="#a9b9c0"/>
<text text-anchor="middle" class="st"><tspan x="1088.0" y="1055.0">新</tspan><tspan x="1088.0" y="1081.4">今</tspan><tspan x="1088.0" y="1107.8">宮</tspan></text>
<rect x="1112.3" y="1023.4" width="28.0" height="84.9" rx="1.8" fill="#a9b9c0"/>
<text text-anchor="middle" class="st"><tspan x="1126.3" y="1048.6">天</tspan><tspan x="1126.3" y="1075.0">王</tspan><tspan x="1126.3" y="1101.5">寺</tspan></text>
<rect x="1257.0" y="1100.0" width="28.0" height="84.6" rx="1.8" fill="#a9b9c0"/>
<text text-anchor="middle" class="st"><tspan x="1271.0" y="1125.1">久</tspan><tspan x="1271.0" y="1151.5">宝</tspan><tspan x="1271.0" y="1177.9">寺</tspan></text>
<rect x="1411.0" y="1078.0" width="28.0" height="58.8" rx="1.8" fill="#a9b9c0"/>
<text text-anchor="middle" class="st"><tspan x="1425.0" y="1103.4">王</tspan><tspan x="1425.0" y="1129.8">寺</tspan></text>
<rect x="1477.3" y="1230.5" width="27.7" height="58.5" rx="1.8" fill="#a9b9c0"/>
<text text-anchor="middle" class="st"><tspan x="1491.2" y="1255.8">高</tspan><tspan x="1491.2" y="1282.2">田</tspan></text>
<rect x="1525.2" y="928.2" width="68.0" height="27.2" rx="1.8" fill="#a9b9c0"/>
<text x="1560.4" y="950.5" text-anchor="middle" letter-spacing="2.4" class="st">木津</text>
<rect x="1503.8" y="977.0" width="59.2" height="27.3" rx="1.8" fill="#a9b9c0"/>
<text x="1534.6" y="999.4" text-anchor="middle" letter-spacing="2.4" class="st">奈良</text>
<rect x="1581.4" y="1120.0" width="59.4" height="27.6" rx="1.8" fill="#a9b9c0"/>
<text x="1612.3" y="1142.5" text-anchor="middle" letter-spacing="2.4" class="st">天理</text>
<rect x="1568.3" y="1253.4" width="59.4" height="27.5" rx="1.8" fill="#a9b9c0"/>
<text x="1599.2" y="1275.9" text-anchor="middle" letter-spacing="2.4" class="st">桜井</text>
<rect x="414.0" y="918.0" width="68.2" height="27.3" rx="1.8" fill="#263238"/>
<text x="449.3" y="940.4" text-anchor="middle" letter-spacing="2.4" class="st">姫路</text>
<rect x="486.4" y="1000.0" width="85.6" height="27.4" rx="1.8" fill="#263238"/>
<text x="530.4" y="1022.4" text-anchor="middle" letter-spacing="2.4" class="st">加古川</text>
<rect x="516.5" y="1071.2" width="85.5" height="27.4" rx="1.8" fill="#263238"/>
<text x="560.5" y="1093.6" text-anchor="middle" letter-spacing="2.4" class="st">大久保</text>
<rect x="608.0" y="1068.0" width="28.0" height="84.8" rx="1.8" fill="#263238"/>
<text text-anchor="middle" class="st"><tspan x="622.0" y="1093.2">西</tspan><tspan x="622.0" y="1119.6">明</tspan><tspan x="622.0" y="1146.0">石</tspan></text>
<rect x="747.4" y="976.8" width="60.2" height="27.5" rx="1.8" fill="#263238"/>
<text x="778.7" y="999.2" text-anchor="middle" letter-spacing="2.4" class="st">神戸</text>
<rect x="774.0" y="941.0" width="82.7" height="27.5" rx="1.8" fill="#263238"/>
<text x="816.6" y="963.5" text-anchor="middle" letter-spacing="2.4" class="st">三ノ宮</text>
<rect x="913.9" y="980.0" width="27.7" height="58.5" rx="1.8" fill="#a9b9c0"/>
<text text-anchor="middle" class="st"><tspan x="927.8" y="1005.2">桜</tspan><tspan x="927.8" y="1031.7">島</tspan></text>
<rect x="948.4" y="891.0" width="27.6" height="167.0" rx="1.8" fill="#a9b9c0"/>
<text transform="translate(962.2 894.5) scale(1 0.678)" x="0" y="0" letter-spacing="2.4" style="writing-mode:vertical-rl" class="st">ユニバーサルシティ</text>
<rect x="579.3" y="1221.7" width="173.3" height="27.2" rx="1.8" fill="#a9b9c0"/>
<text transform="translate(667.0 1244.0) scale(0.905 1)" x="0" y="0" text-anchor="middle" letter-spacing="2.4" class="st">りんくうタウン</text>
<rect x="683.0" y="1256.0" width="27.8" height="84.6" rx="1.8" fill="#a9b9c0"/>
<text text-anchor="middle" class="st"><tspan x="696.9" y="1281.1">日</tspan><tspan x="696.9" y="1307.5">根</tspan><tspan x="696.9" y="1333.9">野</tspan></text>
<rect x="944.6" y="1254.0" width="27.9" height="45.3" rx="1.8" fill="#a9b9c0"/>
<text text-anchor="middle" class="st"><tspan x="958.5" y="1285.9">鳳</tspan></text>
<rect x="499.5" y="1383.2" width="85.5" height="27.2" rx="1.8" fill="#a9b9c0"/>
<text x="543.5" y="1405.5" text-anchor="middle" letter-spacing="2.4" class="st">和歌山</text>
<rect x="857.2" y="1329.6" width="27.8" height="58.9" rx="1.8" fill="#a9b9c0"/>
<text text-anchor="middle" class="st"><tspan x="871.1" y="1355.0">粉</tspan><tspan x="871.1" y="1381.5">河</tspan></text>
<rect x="1125.2" y="1329.6" width="27.8" height="58.9" rx="1.8" fill="#a9b9c0"/>
<text text-anchor="middle" class="st"><tspan x="1139.1" y="1355.0">橋</tspan><tspan x="1139.1" y="1381.5">本</tspan></text>
<rect x="1249.0" y="1329.6" width="28.0" height="58.9" rx="1.8" fill="#a9b9c0"/>
<text text-anchor="middle" class="st"><tspan x="1263.0" y="1355.0">五</tspan><tspan x="1263.0" y="1381.5">条</tspan></text>
<rect x="864.0" y="1458.8" width="27.7" height="58.7" rx="1.8" fill="#a9b9c0"/>
<text text-anchor="middle" class="st"><tspan x="877.9" y="1484.2">御</tspan><tspan x="877.9" y="1510.6">坊</tspan></text>
<rect x="1070.5" y="1432.3" width="28.0" height="111.4" rx="1.8" fill="#a9b9c0"/>
<text text-anchor="middle" class="st"><tspan x="1084.5" y="1457.6">紀</tspan><tspan x="1084.5" y="1484.0">伊</tspan><tspan x="1084.5" y="1510.4">田</tspan><tspan x="1084.5" y="1536.8">辺</tspan></text>
<rect x="1139.5" y="1458.8" width="28.0" height="58.7" rx="1.8" fill="#a9b9c0"/>
<text text-anchor="middle" class="st"><tspan x="1153.5" y="1484.2">白</tspan><tspan x="1153.5" y="1510.6">浜</tspan></text>
<rect x="1392.4" y="1458.8" width="27.6" height="58.7" rx="1.8" fill="#a9b9c0"/>
<text text-anchor="middle" class="st"><tspan x="1406.2" y="1484.2">串</tspan><tspan x="1406.2" y="1510.6">本</tspan></text>
<rect x="1576.3" y="1432.3" width="27.7" height="111.4" rx="1.8" fill="#a9b9c0"/>
<text text-anchor="middle" class="st"><tspan x="1590.2" y="1457.6">紀</tspan><tspan x="1590.2" y="1484.0">伊</tspan><tspan x="1590.2" y="1510.4">勝</tspan><tspan x="1590.2" y="1536.8">浦</tspan></text>
<rect x="1714.0" y="1458.8" width="28.0" height="58.7" rx="1.8" fill="#a9b9c0"/>
<text text-anchor="middle" class="st"><tspan x="1728.0" y="1484.2">新</tspan><tspan x="1728.0" y="1510.6">宮</tspan></text>
<rect x="331.0" y="238.3" width="102.2" height="35.5" rx="5.5" fill="#fdfeff" stroke="#bfd2e6" stroke-width="1"/>
<rect x="337.5" y="244.6" width="23" height="23" rx="3.5" fill="#9acd1e"/>
<text transform="translate(349.0 262.8) scale(1.00 1)" x="0" y="0" text-anchor="middle" class="bd" fill="#1f2d36">A</text>
<text x="365.5" y="264.4" class="ln">山陰線</text>
<rect x="673.5" y="206.5" width="103.0" height="36.2" rx="5.5" fill="#fdfeff" stroke="#bfd2e6" stroke-width="1"/>
<rect x="680.0" y="213.1" width="23" height="23" rx="3.5" fill="#8b8edb"/>
<text transform="translate(691.5 231.3) scale(0.82 1)" x="0" y="0" text-anchor="middle" class="bd" fill="#fff">E</text>
<text x="708.0" y="233.0" class="ln">山陰線</text>
<rect x="1286.9" y="338.0" width="102.3" height="36.1" rx="5.5" fill="#fdfeff" stroke="#bfd2e6" stroke-width="1"/>
<rect x="1293.4" y="344.6" width="23" height="23" rx="3.5" fill="#00a7d3"/>
<text transform="translate(1304.9 362.8) scale(0.82 1)" x="0" y="0" text-anchor="middle" class="bd" fill="#fff">B</text>
<text x="1321.4" y="364.4" class="ln">湖西線</text>
<rect x="1673.8" y="239.5" width="102.3" height="35.6" rx="5.5" fill="#fdfeff" stroke="#bfd2e6" stroke-width="1"/>
<rect x="1680.3" y="245.8" width="23" height="23" rx="3.5" fill="#0072bc"/>
<text transform="translate(1691.8 264.0) scale(1.00 1)" x="0" y="0" text-anchor="middle" class="bd" fill="#fff">A</text>
<text x="1708.3" y="265.7" class="ln">北陸線</text>
<rect x="1500.8" y="414.1" width="122.7" height="35.4" rx="5.5" fill="#fdfeff" stroke="#bfd2e6" stroke-width="1"/>
<rect x="1507.3" y="420.3" width="23" height="23" rx="3.5" fill="#0072bc"/>
<text transform="translate(1518.8 438.5) scale(1.00 1)" x="0" y="0" text-anchor="middle" class="bd" fill="#fff">A</text>
<text x="1535.3" y="440.2" class="ln">琵琶湖線</text>
<rect x="335.5" y="771.8" width="102.8" height="35.5" rx="5.5" fill="#fdfeff" stroke="#bfd2e6" stroke-width="1"/>
<rect x="342.0" y="778.0" width="23" height="23" rx="3.5" fill="#0072bc"/>
<text transform="translate(353.5 796.2) scale(1.00 1)" x="0" y="0" text-anchor="middle" class="bd" fill="#fff">A</text>
<text x="370.0" y="797.9" class="ln">山陽線</text>
<rect x="720.4" y="856.2" width="128.0" height="35.7" rx="5.5" fill="#fdfeff" stroke="#bfd2e6" stroke-width="1"/>
<rect x="726.9" y="862.5" width="23" height="23" rx="3.5" fill="#0072bc"/>
<text transform="translate(738.4 880.8) scale(1.00 1)" x="0" y="0" text-anchor="middle" class="bd" fill="#fff">A</text>
<text x="754.9" y="882.4" class="ln"><tspan font-size="22.6" textLength="25" lengthAdjust="spacingAndGlyphs">JR</tspan>神戸線</text>
<rect x="590.4" y="1169.3" width="151.2" height="39" rx="8" fill="#fff"/>
<rect x="594.4" y="1173.1" width="143.4" height="31.6" rx="3.5" fill="#a9b9c0"/>
<rect x="600" y="1177.8" width="24" height="22.6" fill="#fff"/>
<path transform="translate(612 1189.2) scale(0.92)" fill="#a9b9c0" d="M0 -10.5 C1.3 -10.5 1.9 -8.8 1.9 -7.2 L1.9 -2.6 L10.6 2.9 L10.6 5.2 L1.9 2.6 L1.6 7.2 L4.4 9.2 L4.4 10.8 L0 9.7 L-4.4 10.8 L-4.4 9.2 L-1.6 7.2 L-1.9 2.6 L-10.6 5.2 L-10.6 2.9 L-1.9 -2.6 L-1.9 -7.2 C-1.9 -8.8 -1.3 -10.5 0 -10.5 Z"/>
<text x="627.8" y="1197.7" letter-spacing="1.7" class="st">関西空港</text>
<g filter="url(#b5)"><rect x="38" y="44" width="56" height="40" rx="14" fill="#e8413f"/><rect x="414" y="44" width="52" height="40" rx="14" fill="#f2c230"/></g>
<rect x="48" y="57.2" width="36" height="13.6" rx="6.8" fill="#0a0a0a" stroke="#fff" stroke-width="1.6"/>
<rect x="423" y="57.2" width="34" height="13.6" rx="6.8" fill="#0a0a0a" stroke="#fff" stroke-width="1.6"/>
<text x="119" y="75.9" class="lg" font-size="31.1">止まっている区間</text>
<text x="491.5" y="75.9" class="lg"><tspan font-size="31.9">遅れている区間</tspan><tspan font-size="23" dx="2">など</tspan></text>
</svg>
</body></html>
